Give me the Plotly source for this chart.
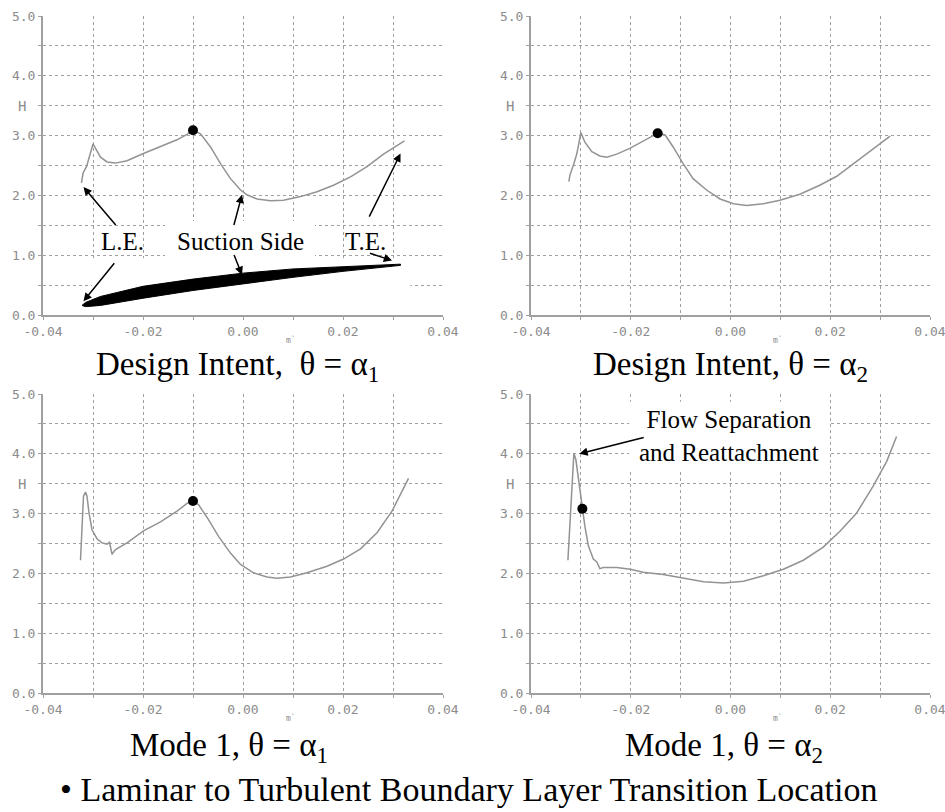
import plotly.graph_objects as go

# Shape factor H along the suction surface, plotted against m'
di_a1_m = [-0.0323, -0.0320, -0.0313, -0.0300, -0.0285, -0.0272, -0.0255, -0.0232,
           -0.0199, -0.0165, -0.0132, -0.0112, -0.0100, -0.0085, -0.0065, -0.0045,
           -0.0025, -0.0005, 0.0008, 0.0028, 0.0055, 0.0081, 0.0115, 0.0148,
           0.0181, 0.0215, 0.0248, 0.0281, 0.0308, 0.0323]
di_a1_h = [2.21, 2.37, 2.48, 2.86, 2.64, 2.56, 2.54, 2.58,
           2.70, 2.81, 2.93, 3.02, 3.09, 3.03, 2.81, 2.53,
           2.28, 2.09, 2.01, 1.94, 1.91, 1.92, 1.98, 2.06,
           2.17, 2.31, 2.48, 2.69, 2.84, 2.91]

di_a2_m = [-0.0324, -0.0322, -0.0314, -0.0308, -0.0300, -0.0292, -0.0278, -0.0262,
           -0.0248, -0.0228, -0.0201, -0.0175, -0.0146, -0.0131, -0.0115, -0.0095,
           -0.0075, -0.0048, -0.0021, 0.0006, 0.0032, 0.0066, 0.0099, 0.0139,
           0.0179, 0.0213, 0.0246, 0.0280, 0.0320]
di_a2_h = [2.23, 2.34, 2.53, 2.70, 3.05, 2.89, 2.73, 2.66,
           2.64, 2.69, 2.79, 2.91, 3.04, 3.01, 2.81, 2.53,
           2.28, 2.09, 1.94, 1.86, 1.83, 1.86, 1.92, 2.02,
           2.17, 2.32, 2.53, 2.74, 2.99]

m1_a1_m = [-0.0325, -0.0323, -0.0321, -0.0319, -0.0315, -0.0312, -0.0308, -0.0302,
           -0.0292, -0.0282, -0.0272, -0.0267, -0.0262, -0.0255, -0.0232, -0.0199,
           -0.0165, -0.0132, -0.0112, -0.0100, -0.0089, -0.0069, -0.0049, -0.0025,
           -0.0005, 0.0021, 0.0048, 0.0068, 0.0095, 0.0128, 0.0168, 0.0201,
           0.0235, 0.0268, 0.0298, 0.0315, 0.0331]
m1_a1_h = [2.22, 2.57, 3.01, 3.29, 3.36, 3.29, 3.01, 2.73,
           2.58, 2.51, 2.49, 2.52, 2.32, 2.40, 2.51, 2.71,
           2.86, 3.04, 3.17, 3.21, 3.15, 2.90, 2.62, 2.34,
           2.15, 2.01, 1.94, 1.92, 1.94, 2.01, 2.12, 2.24,
           2.41, 2.68, 3.04, 3.32, 3.59]

m1_a2_m = [-0.0326, -0.0324, -0.0322, -0.0318, -0.0314, -0.0310, -0.0305, -0.0297,
           -0.0292, -0.0285, -0.0275, -0.0268, -0.0262, -0.0255, -0.0228, -0.0201,
           -0.0175, -0.0135, -0.0095, -0.0054, -0.0014, 0.0026, 0.0066, 0.0106,
           0.0146, 0.0186, 0.0220, 0.0253, 0.0286, 0.0313, 0.0333]
m1_a2_h = [2.22, 2.51, 3.01, 3.57, 4.01, 3.90, 3.57, 3.08,
           2.79, 2.46, 2.24, 2.19, 2.08, 2.10, 2.10, 2.07,
           2.02, 1.98, 1.92, 1.86, 1.84, 1.87, 1.96, 2.07,
           2.22, 2.44, 2.71, 3.01, 3.46, 3.87, 4.29]

# Laminar-to-turbulent transition point for each case
trans_m = [-0.0100, -0.0146, -0.0100, -0.0297]
trans_h = [3.09, 3.04, 3.21, 3.08]

# Blade section sketch drawn under the first case
blade_m = [-0.0322, -0.0315, -0.0285, -0.0200, -0.0100, 0.0000, 0.0100, 0.0200, 0.0315]
blade_upper = [0.16, 0.21, 0.31, 0.48, 0.60, 0.70, 0.77, 0.81, 0.85]
blade_lower = [0.16, 0.14, 0.16, 0.28, 0.41, 0.52, 0.63, 0.73, 0.83]

panel_titles = ["Design Intent,  θ = α<sub>1</sub>",
                "Design Intent, θ = α<sub>2</sub>",
                "Mode 1, θ = α<sub>1</sub>",
                "Mode 1, θ = α<sub>2</sub>"]
footer = "• Laminar to Turbulent Boundary Layer Transition Location"

x_ticks = [-0.04, -0.03, -0.02, -0.01, 0.0, 0.01, 0.02, 0.03, 0.04]
x_labels = ["-0.04", "", "-0.02", "", "0.00", "", "0.02", "", "0.04"]
y_ticks = [0.0, 0.5, 1.0, 1.5, 2.0, 2.5, 3.0, 3.5, 4.0, 4.5, 5.0]
y_labels = ["0.0", "", "1.0", "", "2.0", "", "3.0", "", "4.0", "", "5.0"]

W, H = 945, 812
GREY = "#8c8c8c"
SERIF = "Liberation Serif, Times New Roman, serif"
MONO = "DejaVu Sans Mono, monospace"

# plot boxes in pixels: left, right, top, bottom
boxes = [(43, 443, 16, 315), (531, 930, 16, 315),
         (43, 443, 394, 693), (531, 930, 394, 693)]
# title centres in pixels
title_pos = [(238, 366), (730, 366), (229, 747), (724, 747)]

curves = [(di_a1_m, di_a1_h), (di_a2_m, di_a2_h),
          (m1_a1_m, m1_a1_h), (m1_a2_m, m1_a2_h)]

fig = go.Figure()
layout = dict(template="none", width=W, height=H,
              margin=dict(l=0, r=0, t=0, b=0, pad=0, autoexpand=False),
              paper_bgcolor="white", plot_bgcolor="white", showlegend=False)
annotations = []
shapes = []

for i, ((l, r, t, b), (mx, hy)) in enumerate(zip(boxes, curves)):
    k = "" if i == 0 else str(i + 1)
    xa, ya = "x" + k, "y" + k
    axis_common = dict(showline=True, linecolor="#a0a0a0", linewidth=2,
                       showgrid=True, gridcolor="#a0a0a0", gridwidth=1,
                       griddash="dot", zeroline=False, ticks="outside",
                       ticklen=3, tickcolor="#a0a0a0", tickmode="array",
                       automargin=False, ticklabeloverflow="allow",
                       tickfont=dict(family=MONO, size=13, color=GREY),
                       fixedrange=True)
    layout["xaxis" + k] = dict(axis_common, domain=[l / W, r / W], anchor=ya,
                               range=[-0.04, 0.04], tickvals=x_ticks,
                               ticktext=x_labels)
    layout["yaxis" + k] = dict(axis_common, domain=[1 - b / H, 1 - t / H],
                               anchor=xa, range=[0, 5], tickvals=y_ticks,
                               ticktext=y_labels)
    fig.add_trace(go.Scatter(x=mx, y=hy, mode="lines", xaxis=xa, yaxis=ya,
                             line=dict(color="#939393", width=1.5),
                             hoverinfo="skip"))
    fig.add_trace(go.Scatter(x=[trans_m[i]], y=[trans_h[i]], mode="markers",
                             xaxis=xa, yaxis=ya,
                             marker=dict(color="black", size=10),
                             hoverinfo="skip"))
    # axis captions
    annotations.append(dict(text="H", xref=xa + " domain", yref=ya, x=0, y=3.5,
                            xshift=-27, showarrow=False,
                            font=dict(family=MONO, size=14, color=GREY)))
    annotations.append(dict(text="m`", xref=xa, yref=ya + " domain", x=0.0095,
                            y=0, yshift=-25, yanchor="middle", showarrow=False,
                            font=dict(family=MONO, size=8, color=GREY)))
    tx, ty = title_pos[i]
    annotations.append(dict(text=panel_titles[i], xref="paper", yref="paper",
                            x=tx / W, y=1 - ty / H, showarrow=False,
                            xanchor="center", yanchor="middle",
                            font=dict(family=SERIF, size=33, color="black")))

annotations.append(dict(text=footer, xref="paper", yref="paper",
                        x=468 / W, y=1 - 789 / H, showarrow=False,
                        xanchor="center", yanchor="middle",
                        font=dict(family=SERIF, size=34, color="black")))

# white patches behind the sketch and labels
mask = dict(type="rect", layer="between", fillcolor="white",
            line=dict(width=0))
shapes += [dict(mask, xref="x", yref="y", x0=-0.0302, x1=0.0335, y0=0.03, y1=0.95),
           dict(mask, xref="x", yref="y", x0=-0.0156, x1=0.0144, y0=0.95, y1=1.57),
           dict(mask, xref="x4", yref="y4", x0=-0.0203, x1=0.0198, y0=3.72, y1=4.87)]

# blade outline
fig.add_trace(go.Scatter(x=blade_m + blade_m[::-1],
                         y=blade_upper + blade_lower[::-1],
                         mode="lines", fill="toself", fillcolor="black",
                         line=dict(color="black", width=1),
                         xaxis="x", yaxis="y", hoverinfo="skip"))

label_font = dict(family=SERIF, size=25, color="black")
for txt, x, y in [("L.E.", -0.0242, 1.23), ("Suction Side", -0.0005, 1.23),
                  ("T.E.", 0.0245, 1.23)]:
    annotations.append(dict(text=txt, xref="x", yref="y", x=x, y=y,
                            showarrow=False, font=label_font))

arrow = dict(showarrow=True, arrowhead=2, arrowsize=1.1, arrowwidth=1.5,
             arrowcolor="black", text="", axref="x", ayref="y",
             xref="x", yref="y")
for (ax, ay, x, y) in [(-0.0252, 1.48, -0.0319, 2.14),
                       (-0.0255, 0.89, -0.0319, 0.23),
                       (-0.0019, 1.48, -0.0002, 2.01),
                       (-0.0019, 1.03, -0.0002, 0.67),
                       (0.0251, 1.62, 0.0315, 2.70),
                       (0.0251, 1.04, 0.0298, 0.91)]:
    annotations.append(dict(arrow, ax=ax, ay=ay, x=x, y=y))

annotations.append(dict(text="Flow Separation<br>and Reattachment",
                        xref="x4", yref="y4", x=-0.0004, y=4.29,
                        showarrow=False, font=label_font))
annotations.append(dict(arrow, axref="x4", ayref="y4", xref="x4", yref="y4",
                        ax=-0.0171, ay=4.28, x=-0.0303, y=4.0))

layout["annotations"] = annotations
layout["shapes"] = shapes
fig.update_layout(**layout)
fig.write_html("out.html", config={"displayModeBar": False})
